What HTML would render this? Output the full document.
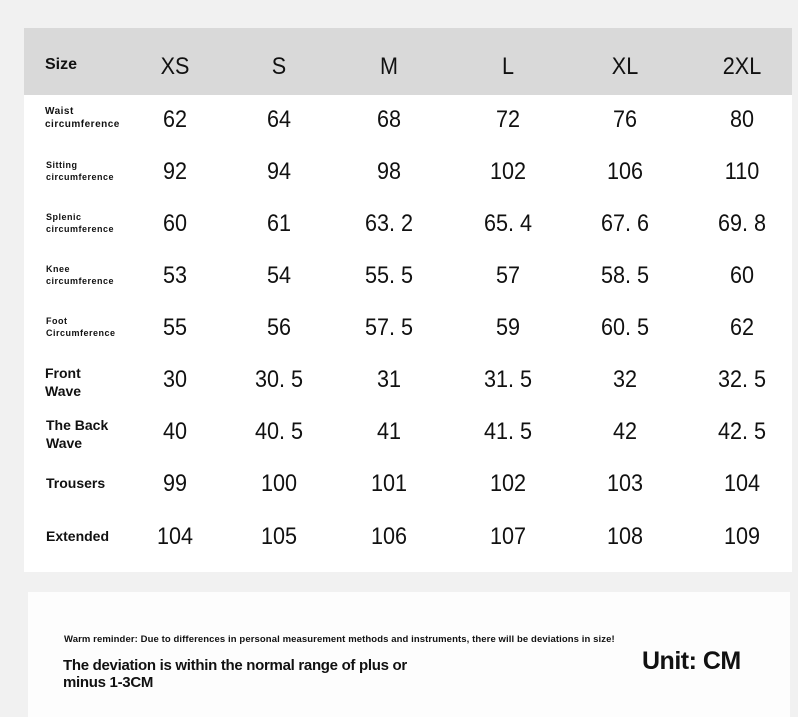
<!DOCTYPE html>
<html><head><meta charset="utf-8"><style>
body{margin:0;width:798px;height:717px;background:#f1f1f1;position:relative;overflow:hidden;font-family:"Liberation Sans",sans-serif;color:#111}
.hdr{position:absolute;left:24px;top:28px;width:768px;height:67px;background:#d9d9d9}
.tbl{position:absolute;left:24px;top:95px;width:768px;height:477px;background:#fff}
.card{position:absolute;left:28px;top:592px;width:762px;height:125px;background:#fdfdfd}
.t{position:absolute;transform:translate(-50%,-50%) scaleX(0.9);white-space:nowrap}
.n{font-size:24px}
.l{position:absolute;font-weight:bold;white-space:nowrap}
</style></head><body>
<div class="hdr"></div><div class="tbl"></div><div class="card"></div>
<div class="l" style="left:45px;top:56px;font-size:16px">Size</div>
<div id="g"></div>
<div class="l" style="left:45px;top:105px;font-size:10px;line-height:13px;letter-spacing:.5px">Waist<br>circumference</div>
<div class="l" style="left:46px;top:159px;font-size:9px;line-height:12px;letter-spacing:.5px">Sitting<br>circumference</div>
<div class="l" style="left:46px;top:211px;font-size:9px;line-height:12px;letter-spacing:.5px">Splenic<br>circumference</div>
<div class="l" style="left:46px;top:263px;font-size:9px;line-height:12px;letter-spacing:.5px">Knee<br>circumference</div>
<div class="l" style="left:46px;top:315px;font-size:9px;line-height:12px;letter-spacing:.5px">Foot<br>Circumference</div>
<div class="l" style="left:45px;top:364px;font-size:14px;line-height:18px">Front<br>Wave</div>
<div class="l" style="left:46px;top:416px;font-size:14px;line-height:18px">The Back<br>Wave</div>
<div class="l" style="left:46px;top:475px;font-size:14px">Trousers</div>
<div class="l" style="left:46px;top:528px;font-size:14px">Extended</div>
<div class="l" style="left:64px;top:634px;font-size:9.5px;letter-spacing:.1px">Warm reminder: Due to differences in personal measurement methods and instruments, there will be deviations in size!</div>
<div class="l" style="left:63px;top:657px;font-size:15px;line-height:17px;letter-spacing:-.3px">The deviation is within the normal range of plus or<br>minus 1-3CM</div>
<div class="l" style="left:642px;top:647px;font-size:25px;letter-spacing:-.5px">Unit: CM</div>
<script>
var cols=[175,279,389,508,625,742];
var rows=[[67,"XS","S","M","L","XL","2XL"],
[120,62,64,68,72,76,80],[172,92,94,98,102,106,110],[224,60,61,"63.2","65.4","67.6","69.8"],
[276,53,54,"55.5",57,"58.5",60],[328,55,56,"57.5",59,"60.5",62],[380,30,"30.5",31,"31.5",32,"32.5"],
[432,40,"40.5",41,"41.5",42,"42.5"],[484,99,100,101,102,103,104],[537,104,105,106,107,108,109]];
var h="";rows.forEach(function(r){for(var i=0;i<6;i++){h+='<div class="t n" style="left:'+cols[i]+'px;top:'+r[0]+'px">'+String(r[i+1]).replace('.','. ')+'</div>';}});
document.getElementById("g").innerHTML=h;
</script>
</body></html>
